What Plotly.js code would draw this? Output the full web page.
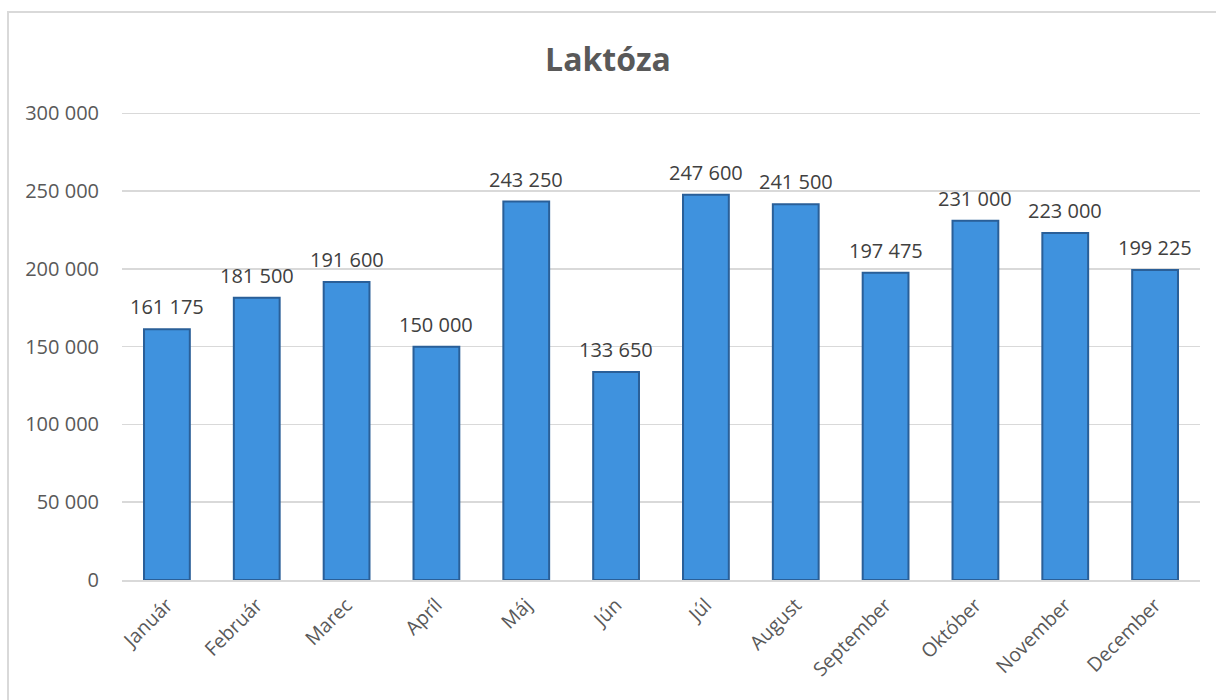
<!DOCTYPE html>
<html>
<head>
<meta charset="utf-8">
<script src="https://cdn.plot.ly/plotly-3.0.1.min.js"></script>
<style>
  html, body { margin: 0; padding: 0; background: #fff; }
  #wrap { position: relative; width: 1216px; height: 700px; overflow: hidden; }
  #chart { width: 1216px; height: 700px; }
  #frame { position: absolute; left: 7px; top: 11px; width: 1220px; height: 700px;
           border-left: 2px solid #d9d9d9; border-top: 2px solid #d9d9d9; pointer-events: none; }
</style>
</head>
<body>
<div id="wrap">
  <div id="chart"></div>
  <div id="frame"></div>
</div>
<script>
const months = ["Január", "Február", "Marec", "Apríl", "Máj", "Jún", "Júl", "August", "September", "Október", "November", "December"];
const values = [161175, 181500, 191600, 150000, 243250, 133650, 247600, 241500, 197475, 231000, 223000, 199225];
const yTicks = [0, 50000, 100000, 150000, 200000, 250000, 300000];

function fmt(v) {
  return String(v).replace(/\B(?=(\d{3})+(?!\d))/g, " ");
}

const FONT = "'Open Sans', sans-serif";

const trace = {
  type: "bar",
  x: months,
  y: values,
  marker: {
    color: "#3f92de",
    line: { color: "#2a5f98", width: 2 }
  },
  hoverinfo: "x+y"
};

const labels = months.map((m, i) => ({
  x: m,
  y: values[i],
  xref: "x",
  yref: "y",
  text: fmt(values[i]),
  showarrow: false,
  yanchor: "bottom",
  yshift: 7,
  font: { family: FONT, size: 20, color: "#404040" }
}));

const layout = {
  width: 1216,
  height: 700,
  margin: { l: 122, r: 16, t: 111, b: 120 },
  paper_bgcolor: "#ffffff",
  plot_bgcolor: "#ffffff",
  bargap: 0.49,
  showlegend: false,
  annotations: labels,
  title: {
    text: "<b>Laktóza</b>",
    font: { family: FONT, size: 32, color: "#595959" },
    x: 0.5,
    xanchor: "center",
    y: 0.915,
    yanchor: "middle"
  },
  xaxis: {
    type: "category",
    tickangle: -45,
    tickfont: { family: FONT, size: 19.5, color: "#595959" },
    showgrid: false,
    showline: true,
    linecolor: "#d9d9d9",
    linewidth: 2,
    ticks: "",
    ticklabelstandoff: 4,
    automargin: false
  },
  yaxis: {
    range: [0, 301500],
    tickvals: yTicks,
    ticktext: yTicks.map(fmt),
    tickfont: { family: FONT, size: 20, color: "#595959" },
    showgrid: true,
    gridcolor: "#d9d9d9",
    gridwidth: 1.5,
    zeroline: false,
    showline: false,
    ticks: "",
    ticklabelstandoff: 22,
    automargin: false
  }
};

Plotly.newPlot("chart", [trace], layout, { displayModeBar: false, staticPlot: true });
</script>
</body>
</html>
